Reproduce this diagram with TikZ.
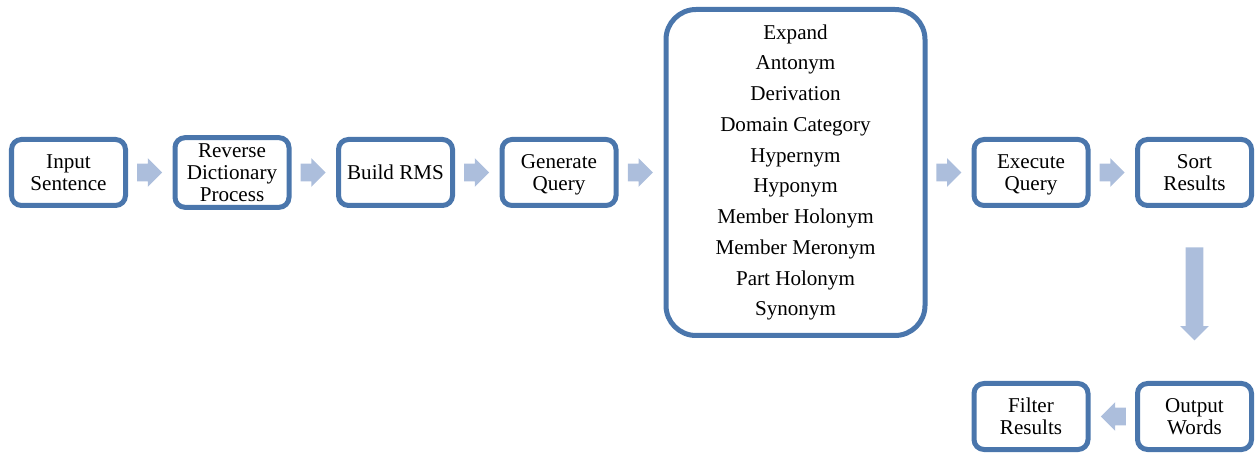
\documentclass[tikz,border=0pt]{standalone}
\usepackage{fontspec}
\setmainfont{Liberation Serif}
\usetikzlibrary{positioning, shapes.arrows, calc}
\definecolor{boxblue}{RGB}{74,118,172}
\definecolor{arrowblue}{RGB}{172,190,220}
\tikzset{flow/.style = { single arrow, fill = arrowblue, inner xsep = 0pt, inner ysep = 0.17cm, single arrow head extend = 0.11cm, minimum height = 0.5cm, xshift = -0.1cm }}

\begin{document}
\begin{tikzpicture}[stage/.style = { draw = boxblue, line width = 0.1cm, rounded corners = 0.2cm, outer sep = 0pt, minimum width = 2.28cm, minimum height = 1.32cm, align = center, font = \fontsize{12}{12.5}\selectfont }, relations/.style = { stage, rounded corners = 0.6cm, minimum width = 5.18cm, minimum height = 6.52cm, font = \fontsize{12}{17.5}\selectfont }]
				\useasboundingbox (0,0) rectangle (25.14,-9.1);

				\node [stage] (input) at (1.37,-3.45) {Input\\Sentence};
				\node [stage, right = 0.99 of input] (reverse) {Reverse\\Dictionary\\Process};
				\node [stage, right = 0.99 of reverse] (rms) {Build RMS};
				\node [stage, right = 0.99 of rms] (query) {Generate\\\smash{Query}};
				\node [relations, right = 1.0 of query] (expand) {Expand\\Antonym\\Derivation\\Domain Category\\Hypernym\\Hyponym\\Member Holonym\\Member Meronym\\Part Holonym\\Synonym};
				\node [stage, right = 0.98 of expand] (execute) {Execute\\\smash{Query}};
				\node [stage, right = 0.99 of execute] (sort) {Sort\\Results};
				\node [stage, below = 3.56 of sort] (output) {Output\\Words};
				\node [stage, left = 0.99 of output] (filter) {Filter\\Results};

				\node [flow] (a1) at ($(input.east)!0.5!(reverse.west)$) {};
				\node [flow] (a2) at ($(reverse.east)!0.5!(rms.west)$) {};
				\node [flow] (a3) at ($(rms.east)!0.5!(query.west)$) {};
				\node [flow] (a4) at ($(query.east)!0.5!(expand.west)$) {};
				\node [flow] (a5) at ($(expand.east)!0.5!(execute.west)$) {};
				\node [flow] (a6) at ($(execute.east)!0.5!(sort.west)$) {};
				\node [rotate = -90, flow, minimum height = 1.86cm] (a7) at ($(sort.south)!0.5!(output.north)$) {};
				\node [rotate = 180, flow] (a8) at ($(output.west)!0.5!(filter.east)$) {};
			\end{tikzpicture}
\end{document}
